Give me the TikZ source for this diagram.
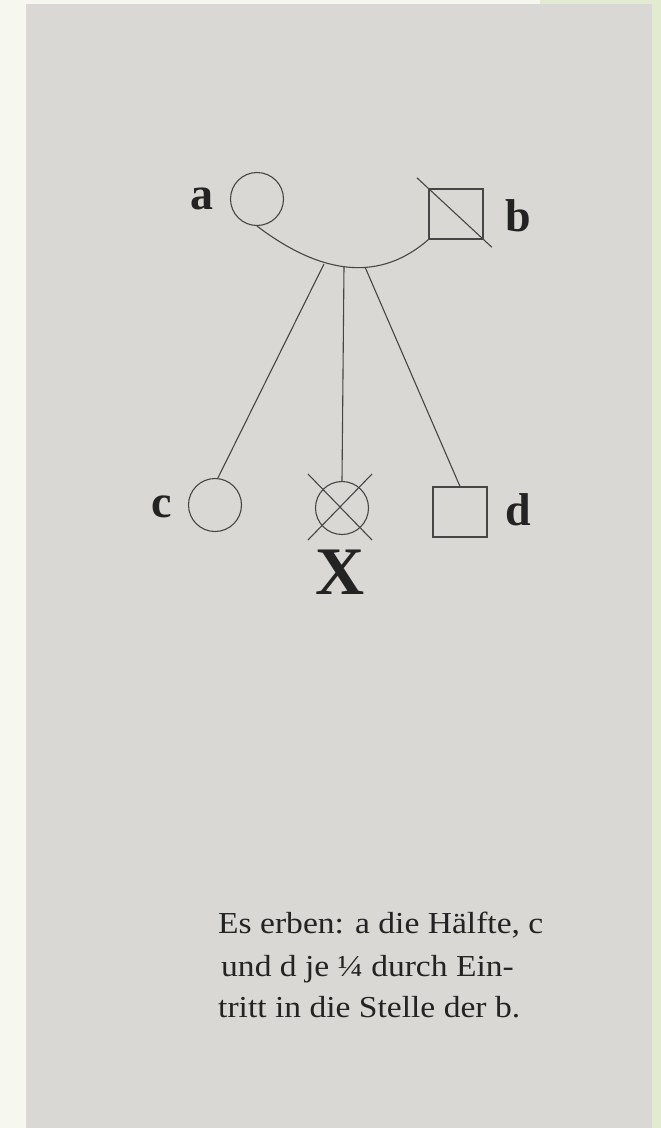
\documentclass[tikz,border=0pt]{standalone}
\usepackage{fontspec}
\setmainfont{Liberation Serif}
\usetikzlibrary{calc}
\definecolor{paper}{RGB}{217,216,212}
\definecolor{bgleft}{RGB}{246,248,240}
\definecolor{bgright}{RGB}{226,234,208}
\definecolor{ink}{RGB}{70,70,70}
\definecolor{txt}{RGB}{35,35,35}
\tikzset{
  person/.style={draw=ink, line width=1.1pt, inner sep=0pt},
  female/.style={person, circle, minimum size=53pt},
  male/.style={person, rectangle, minimum width=54pt, minimum height=50pt},
  lbl/.style={text=txt, font=\fontsize{46}{50}\selectfont\bfseries, inner sep=0pt},
  bigx/.style={text=txt, font=\fontsize{68}{72}\selectfont\bfseries, inner sep=0pt},
  caption/.style={text=txt, font=\fontsize{30.5}{34}\selectfont, inner sep=0pt, anchor=base west, xscale=1.1},
  link/.style={draw=ink, line width=1.1pt}
}
\begin{document}
\begin{tikzpicture}[x=1pt,y=-1pt]
\useasboundingbox (0,0) rectangle (661,1128);
\fill[bgleft] (0,0) rectangle (661,1128);
\fill[bgright] (540,0) rectangle (661,1128);
\fill[paper] (26,4) rectangle (652,1128);

% persons
\node[female] (a) at (257,199) {};
\node[male] (b) at (456,214) {};
\node[female] (c) at (215,505) {};
\node[female] (x) at (342,508) {};
\node[male] (d) at (460,512) {};

% labels
\node[lbl] (la) at (202,199) {a};
\node[lbl] (lb) at (518,216) {b};
\node[lbl] (lc) at (162,507) {c};
\node[lbl] (ld) at (518,510) {d};
\node[bigx] (lx) at (340,572) {X};

% marriage arc
\draw[link] (a.south) .. controls (323.7,276.7) and (381,281) .. (b.south west);
\coordinate (m1) at (324,264);
\coordinate (m2) at (344,266.5);
\coordinate (m3) at (365,267);

% descent lines
\draw[link] (m1) -- (c.84);
\draw[link] (m2) -- (x.north);
\draw[link] (m3) -- (d.north);

% deceased marks
\draw[link] ($(b.north west)!-0.21!(b.south east)$) -- ($(b.south east)!-0.15!(b.north west)$);
\draw[link] ($(x.center)+(-34,-34)$) -- ($(x.center)+(30,32)$);
\draw[link] ($(x.center)+(-34,32)$) -- ($(x.center)+(30,-34)$);

% caption
\node[caption] (t1) at (218,933) {Es erben: a die Hälfte, c};
\node[caption] (t2) at (221,976) {und d je ¼ durch Ein-};
\node[caption] (t3) at (218,1017) {tritt in die Stelle der b.};
\end{tikzpicture}
\end{document}
